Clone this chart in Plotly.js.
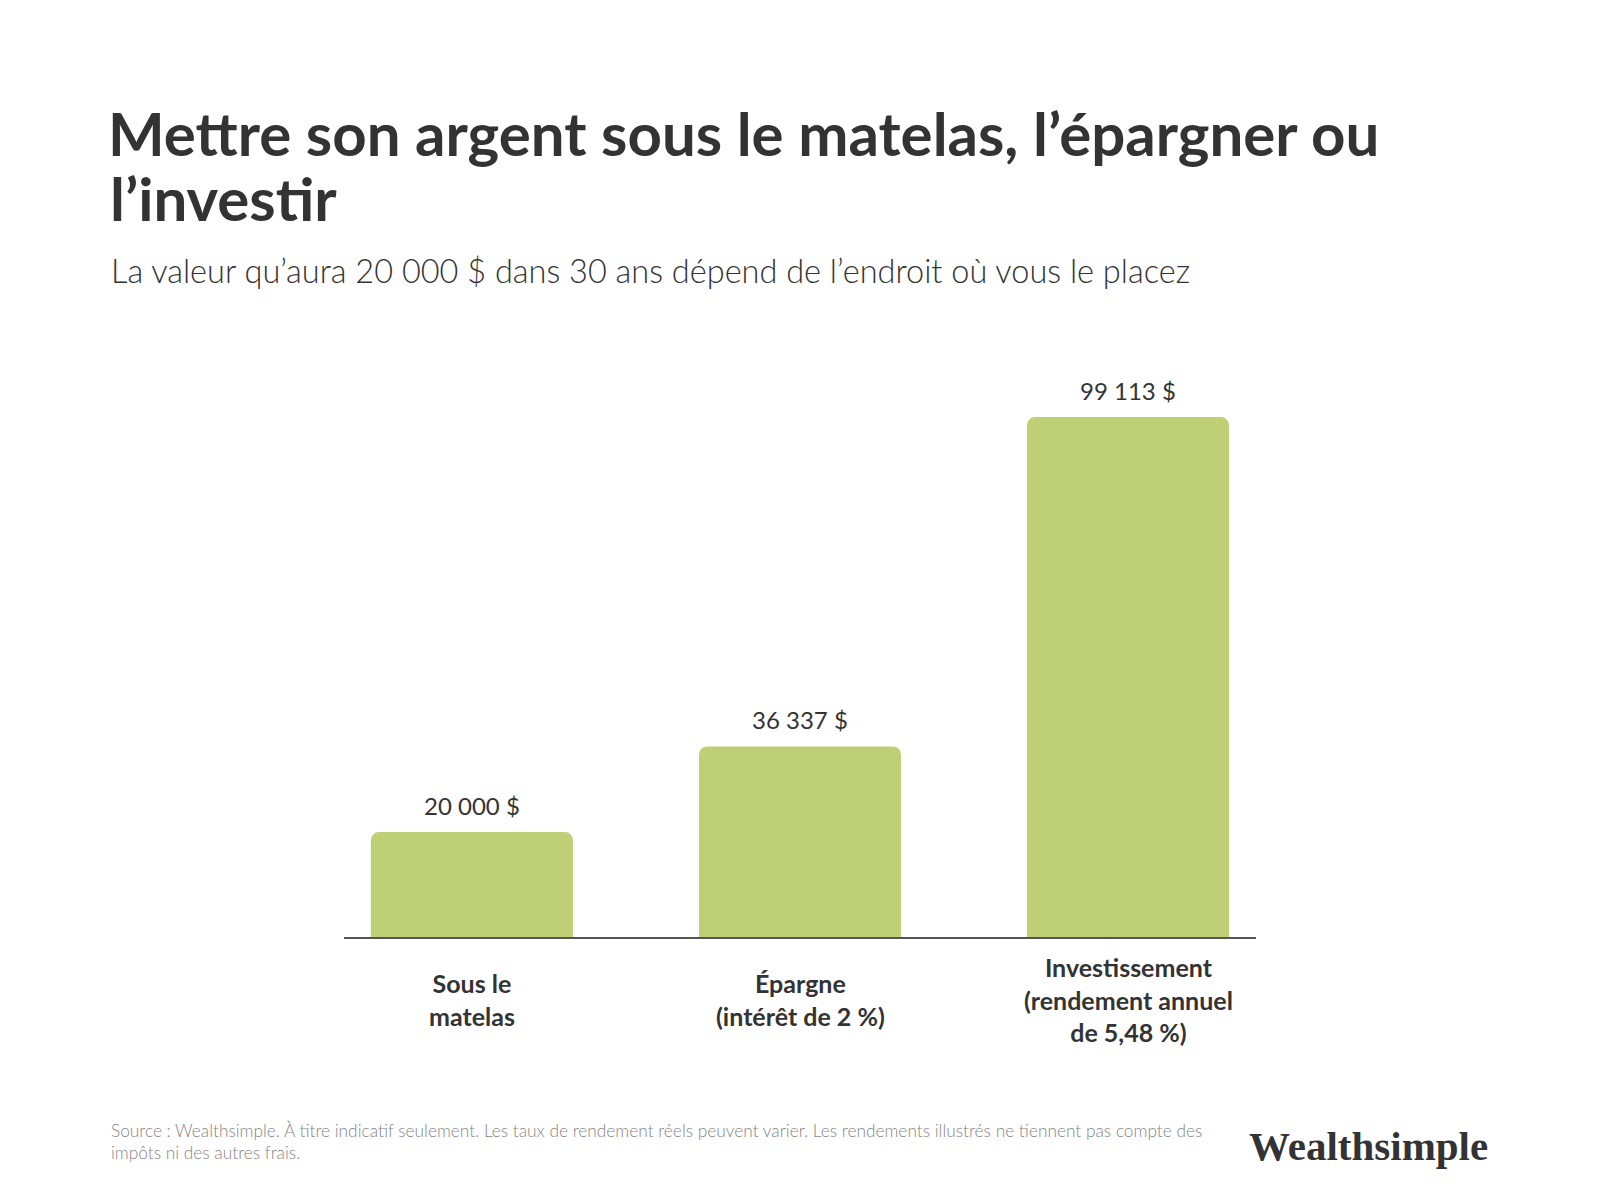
<!DOCTYPE html>
<html>
<head>
<meta charset="utf-8">
<script src="https://cdn.plot.ly/plotly-3.0.1.min.js"></script>
<style>html,body{margin:0;padding:0;background:#fff;}#chart{width:1600px;height:1195px;}</style>
</head>
<body>
<div id="chart"></div>
<script>
// Data
var categories = ["Sous le<br>matelas", "Épargne<br>(intérêt de 2 %)", "Investissement<br>(rendement annuel<br>de 5,48 %)"];
var categoryKeys = ["matelas", "epargne", "investissement"];
var values = [20000, 36337, 99113];
var valueLabels = ["20 000 $", "36 337 $", "99 113 $"];

var titleLine1 = "Mettre son argent sous le matelas, l’épargner ou";
var titleLine2 = "l’investir";
var subtitleText = "La valeur qu’aura 20 000 $ dans 30 ans dépend de l’endroit où vous le placez";
var sourceText = "Source : Wealthsimple. À titre indicatif seulement. Les taux de rendement réels peuvent varier. Les rendements illustrés ne tiennent pas compte des<br>impôts ni des autres frais.";
var logoText = "Wealthsimple";

var FONT = "Lato, 'Open Sans', sans-serif";
var W = 1600, H = 1195;
var mL = 344, mR = 344, mT = 360, mB = 258;
var plotW = W - mL - mR, plotH = H - mT - mB;
function px2x(p) { return (p - mL) / plotW; }
function py2y(p) { return (H - mB - p) / plotH; }

var trace = {
  type: "bar",
  x: categoryKeys,
  y: values,
  marker: { color: "#BECF76", cornerradius: 8 },
  hoverinfo: "none"
};

var annotations = [];
for (var i = 0; i < values.length; i++) {
  // value labels
  annotations.push({
    x: categoryKeys[i], y: values[i], xref: "x", yref: "y",
    text: valueLabels[i], showarrow: false,
    xanchor: "center", yanchor: "bottom", yshift: 10,
    font: { family: FONT, size: 24, color: "#333333" }
  });
  // category labels
  annotations.push({
    x: categoryKeys[i], y: 0, xref: "x", yref: "y",
    text: "<b>" + categories[i] + "</b>", showarrow: false,
    xanchor: "center", yanchor: "middle", yshift: -62, align: "center",
    font: { family: FONT, size: 25, color: "#333333" }
  });
}
// title line 2
annotations.push({
  xref: "paper", yref: "paper", x: px2x(108), y: py2y(198),
  xanchor: "left", yanchor: "middle", showarrow: false,
  text: "<b>" + titleLine2 + "</b>",
  font: { family: FONT, size: 60, color: "#333333" }
});
// subtitle
annotations.push({
  xref: "paper", yref: "paper", x: px2x(109), y: py2y(270),
  xanchor: "left", yanchor: "middle", showarrow: false,
  text: subtitleText,
  font: { family: FONT, size: 32.5, color: "#333333", weight: 300 }
});
// source
annotations.push({
  xref: "paper", yref: "paper", x: px2x(109), y: py2y(1141),
  xanchor: "left", yanchor: "middle", showarrow: false, align: "left",
  text: sourceText,
  font: { family: FONT, size: 17.3, color: "#858585", weight: 300 }
});
// logo
annotations.push({
  xref: "paper", yref: "paper", x: px2x(1490), y: py2y(1146),
  xanchor: "right", yanchor: "middle", showarrow: false,
  text: "<b>" + logoText + "</b>",
  font: { family: "'Liberation Serif', serif", size: 41, color: "#333333" }
});

var layout = {
  width: W, height: H,
  margin: { l: mL, r: mR, t: mT, b: mB, pad: 0 },
  paper_bgcolor: "#ffffff", plot_bgcolor: "#ffffff",
  showlegend: false,
  bargap: 0.384,
  title: {
    text: "<b>" + titleLine1 + "</b>",
    xref: "container", yref: "container",
    x: 108 / W, xanchor: "left",
    y: 1 - 135 / H, yanchor: "middle",
    font: { family: FONT, size: 60, color: "#333333" }
  },
  xaxis: {
    type: "category",
    range: [-0.39, 2.39],
    showticklabels: false, ticks: "",
    showgrid: false, zeroline: false,
    showline: true, linecolor: "#555555", linewidth: 2
  },
  yaxis: {
    range: [0, 110000],
    visible: false, showgrid: false, zeroline: false
  },
  annotations: annotations
};

Plotly.newPlot("chart", [trace], layout, { displayModeBar: false, staticPlot: true });
</script>
</body>
</html>
